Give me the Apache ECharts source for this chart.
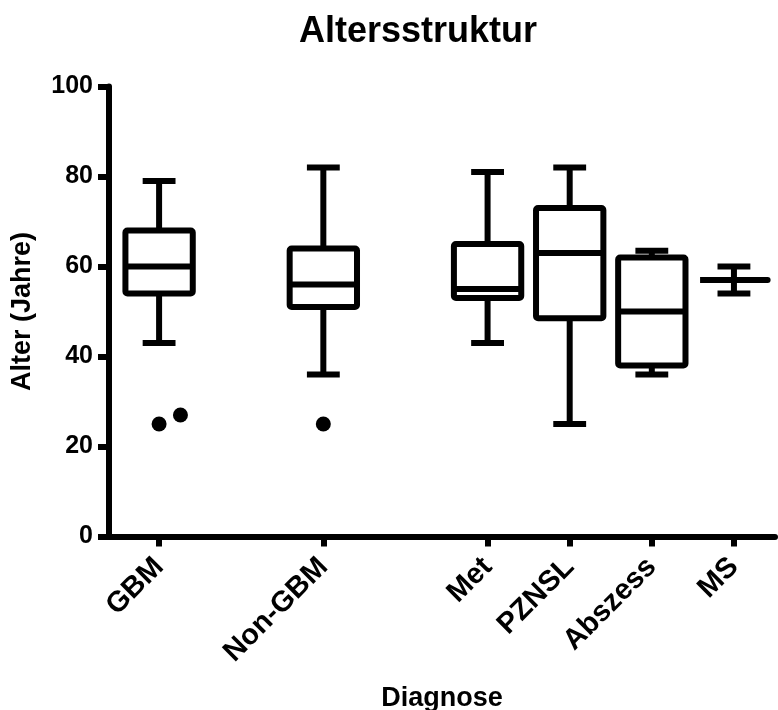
<!DOCTYPE html>
<html>
<head>
<meta charset="utf-8">
<title>Altersstruktur</title>
<script src="https://cdn.jsdelivr.net/npm/echarts@6/dist/echarts.min.js"></script>
<style>
    html, body { margin: 0; padding: 0; background: #fff; }
    #chart { width: 778px; height: 710px; }
</style>
</head>
<body>
<div id="chart"></div>
<script>
// Diagnosegruppen und ihre Lage auf der x-Achse (Lücke nach Non-GBM)
var categories = ['GBM', 'Non-GBM', 'Met', 'PZNSL', 'Abszess', 'MS'];
var positions  = [0, 2, 4, 5, 6, 7];

// Boxplot-Kennwerte (Alter in Jahren)
var mins    = [43, 36, 43, 25, 36, 54];
var q1s     = [54, 51, 53, 48.5, 38, 57];
var medians = [60, 56, 55, 63, 50, 57];
var q3s     = [68, 64, 65, 73, 62, 57];
var maxs    = [79, 82, 81, 82, 63.5, 60];

// Ausreißer: [x, Alter]
var outliers = [[0, 25], [0.26, 27], [2, 25]];

var yTicks = [0, 20, 40, 60, 80, 100];

var FONT = "'Liberation Sans', Arial, sans-serif";

function buildBoxData() {
    var data = [];
    for (var i = 0; i < categories.length; i++) {
        data.push([positions[i], mins[i], q1s[i], medians[i], q3s[i], maxs[i]]);
    }
    return data;
}

/**
 * Box mit Whiskern zeichnen
 */
function renderBox(params, api) {
    var x     = api.value(0);
    var unit  = api.size([1, 0])[0];
    var halfW = unit * 0.41;
    var capW  = unit * 0.2;
    var pMin  = api.coord([x, api.value(1)]);
    var pQ1   = api.coord([x, api.value(2)]);
    var pMed  = api.coord([x, api.value(3)]);
    var pQ3   = api.coord([x, api.value(4)]);
    var pMax  = api.coord([x, api.value(5)]);
    var cx    = pMed[0];
    var style = { stroke: '#000', lineWidth: 6, fill: null, lineJoin: 'round' };

    return {
        type: 'group',
        children: [
            { type: 'line', shape: { x1: cx, y1: pMax[1], x2: cx, y2: pQ3[1] }, style: style },
            { type: 'line', shape: { x1: cx, y1: pQ1[1], x2: cx, y2: pMin[1] }, style: style },
            { type: 'line', shape: { x1: cx - capW, y1: pMax[1], x2: cx + capW, y2: pMax[1] }, style: style },
            { type: 'line', shape: { x1: cx - capW, y1: pMin[1], x2: cx + capW, y2: pMin[1] }, style: style },
            { type: 'rect', shape: { x: cx - halfW, y: pQ3[1], width: halfW * 2, height: pQ1[1] - pQ3[1], r: 2 }, style: style },
            { type: 'line', shape: { x1: cx - halfW, y1: pMed[1], x2: cx + halfW, y2: pMed[1] }, style: style }
        ]
    };
}

document.addEventListener('DOMContentLoaded', function () {
    var chart = echarts.init(document.getElementById('chart'), null, { renderer: 'canvas' });

    chart.setOption({
        animation: false,
        backgroundColor: '#fff',
        title: {
            text: 'Altersstruktur',
            left: 294,
            top: 9,
            textStyle: { fontFamily: FONT, fontWeight: 'bold', fontSize: 36, color: '#000' }
        },
        grid: {
            left: 109,
            right: 3,
            top: 86.5,
            bottom: 173.5,
            containLabel: false,
            outerBoundsMode: 'none'
        },
        xAxis: {
            type: 'value',
            min: -0.61,
            max: 7.5,
            name: 'Diagnose',
            nameLocation: 'middle',
            nameGap: 149,
            nameTextStyle: { fontFamily: FONT, fontWeight: 'bold', fontSize: 27, color: '#000' },
            splitLine: { show: false },
            axisLine: { show: true, onZero: false, lineStyle: { color: '#000', width: 6 } },
            axisTick: {
                show: true,
                length: 10,
                customValues: positions,
                lineStyle: { color: '#000', width: 6 }
            },
            axisLabel: {
                customValues: positions,
                rotate: 45,
                margin: 26,
                fontFamily: FONT,
                fontWeight: 'bold',
                fontSize: 29,
                color: '#000',
                formatter: function (v) {
                    var i = positions.indexOf(v);
                    return i >= 0 ? categories[i] : '';
                }
            }
        },
        yAxis: {
            type: 'value',
            min: 0,
            max: 100,
            interval: 20,
            name: 'Alter (Jahre)',
            nameLocation: 'middle',
            nameGap: 73,
            nameTextStyle: { fontFamily: FONT, fontWeight: 'bold', fontSize: 27, color: '#000' },
            splitLine: { show: false },
            axisLine: { show: true, onZero: false, lineStyle: { color: '#000', width: 6 } },
            axisTick: { show: true, length: 11, lineStyle: { color: '#000', width: 6 } },
            axisLabel: {
                margin: 16,
                fontFamily: FONT,
                fontWeight: 'bold',
                fontSize: 25,
                color: '#000',
                formatter: function (v) {
                    return yTicks.indexOf(v) >= 0 ? String(v) : '';
                }
            }
        },
        series: [
            {
                type: 'custom',
                renderItem: renderBox,
                encode: { x: 0, y: [1, 2, 3, 4, 5] },
                data: buildBoxData(),
                z: 3
            },
            {
                type: 'scatter',
                symbol: 'circle',
                symbolSize: 15,
                itemStyle: { color: '#000', opacity: 1 },
                data: outliers,
                z: 4
            }
        ]
    });
});
</script>
</body>
</html>
